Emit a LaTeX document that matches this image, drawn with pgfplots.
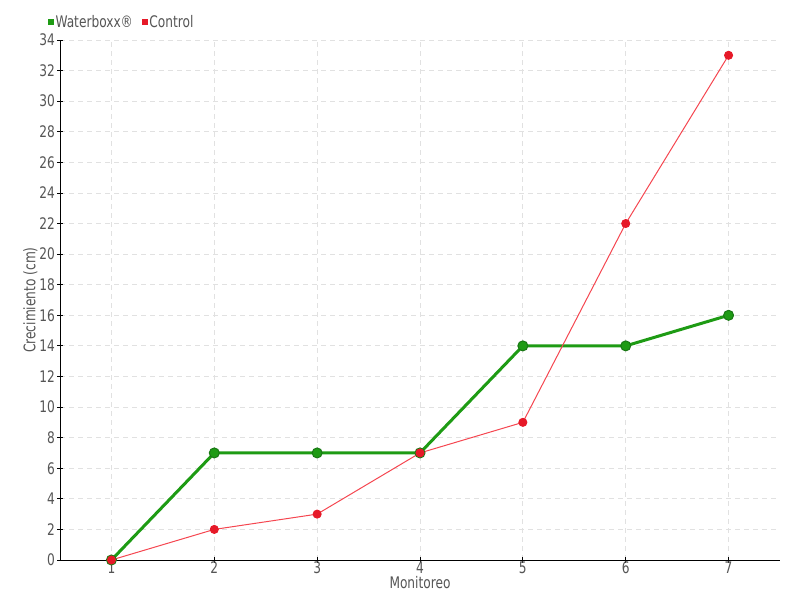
\documentclass[border=0pt]{standalone}
\usepackage{pgfplots}
\pgfplotsset{compat=1.18}
\usepackage{fontspec}
\setmainfont{DejaVu Sans Condensed}[FakeStretch=0.85]
\definecolor{wbgreen}{RGB}{30,155,20}
\definecolor{wbdark}{RGB}{25,120,20}
\definecolor{ctred}{RGB}{230,25,40}
\definecolor{ctline}{RGB}{245,70,80}
\definecolor{txt}{RGB}{85,85,85}
\definecolor{gridc}{RGB}{225,225,225}
\begin{document}
\begin{tikzpicture}
\path[use as bounding box] (-60bp,-40bp) rectangle (740bp,560bp);
\begin{axis}[
    at={(0,0)}, anchor=south west,
    scale only axis,
    width=720bp, height=520bp,
    xmin=0.5, xmax=7.5,
    ymin=0, ymax=34,
    xtick={1,...,7},
    ytick={0,2,...,34},
    axis x line=bottom, axis y line=left,
    axis line style={-, black, line width=1bp},
    tick align=center,
    major tick length=5bp,
    tick style={black, line width=0.8bp},
    grid=major,
    grid style={gridc, dash pattern=on 5bp off 4bp, line width=0.8bp},
    font=\fontsize{16}{18}\selectfont\color{txt},
    /pgf/number format/assume math mode=true,
    ticklabel style={font=\fontsize{16}{18}\selectfont\color{txt}},
    xticklabel style={yshift=4bp},
    yticklabel style={xshift=1bp},
    xlabel={Monitoreo},
    ylabel={Crecimiento (cm)},
    xlabel style={at={(axis description cs:0.5,-0.044)}, anchor=center},
    ylabel style={at={(axis description cs:-0.041,0.5)}, anchor=center},
    legend style={at={(axis description cs:-0.017,1.035)}, anchor=west,
        draw=none, fill=none, inner sep=0pt,
        font=\fontsize{16}{18}\selectfont\color{txt},
        /tikz/every even column/.append style={column sep=7bp}},
    legend columns=-1,
    legend cell align=left,
    clip=false,
]
\addlegendimage{only marks, mark=square*, mark size=2.8bp, color=wbgreen}
\addlegendentry{Waterboxx®}
\addlegendimage{only marks, mark=square*, mark size=2.8bp, color=ctred}
\addlegendentry{Control}
\addplot[forget plot, color=wbgreen, line width=3bp, mark=*, mark size=5bp,
    mark options={fill=wbgreen, draw=wbdark, line width=1bp}] coordinates {
    (1,0) (2,7) (3,7) (4,7) (5,14) (6,14) (7,16)
};
\addplot[forget plot, color=ctline, line width=1bp, mark=*, mark size=4bp,
    mark options={fill=ctred, draw=ctred}] coordinates {
    (1,0) (2,2) (3,3) (4,7) (5,9) (6,22) (7,33)
};
\end{axis}
\end{tikzpicture}
\end{document}
